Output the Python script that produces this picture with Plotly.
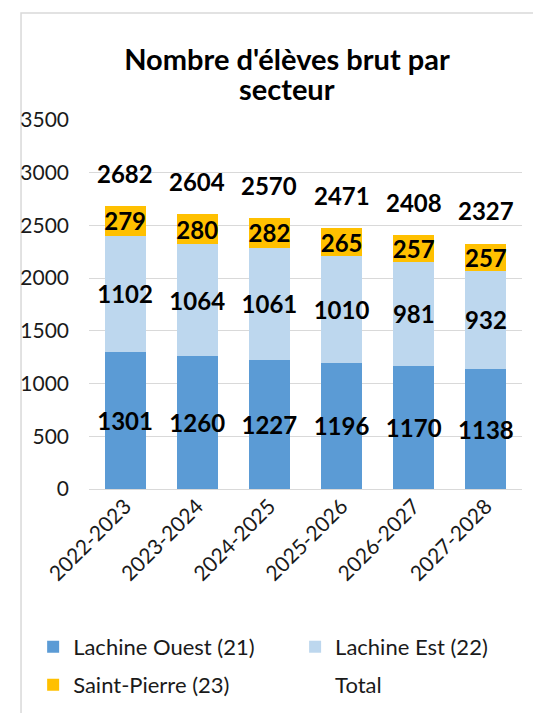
import plotly.graph_objects as go

# données
annees = ["2022-2023", "2023-2024", "2024-2025", "2025-2026", "2026-2027", "2027-2028"]
lachine_ouest = [1301, 1260, 1227, 1196, 1170, 1138]
lachine_est = [1102, 1064, 1061, 1010, 981, 932]
saint_pierre = [279, 280, 282, 265, 257, 257]
totaux = [2682, 2604, 2570, 2471, 2408, 2327]

COULEURS = {"ouest": "#5B9BD5", "est": "#BDD7EE", "sp": "#FFC000"}
POLICE = "Lato"
LABEL_FONT = dict(family=POLICE, size=24, color="black", weight="bold")
TXT = "#1a1a1a"

# la page html a une marge de 8 px autour de la figure
W, H = 533, 705


def barre(nom, valeurs, couleur, legende):
    return go.Bar(x=annees, y=valeurs, name=nom, legend=legende,
                  marker=dict(color=couleur, line=dict(width=0)),
                  text=valeurs, textposition="inside", insidetextanchor="middle",
                  constraintext="none", textfont=LABEL_FONT,
                  textangle=0)


data = [
    barre("Lachine Ouest (21)", lachine_ouest, COULEURS["ouest"], "legend"),
    barre("Lachine Est (22)", lachine_est, COULEURS["est"], "legend2"),
    barre("Saint-Pierre (23)", saint_pierre, COULEURS["sp"], "legend3"),
    # série Total : sans remplissage, juste pour la légende
    go.Bar(x=annees, y=totaux, name="Total", legend="legend4",
           marker=dict(color="rgba(0,0,0,0)", line=dict(width=0)),
           hoverinfo="skip"),
]

fig = go.Figure(data=data)

# étiquettes des totaux au-dessus des barres
for a, t in zip(annees, totaux):
    fig.add_annotation(x=a, y=t, text=str(t), showarrow=False,
                       yanchor="middle", yshift=33, font=LABEL_FONT)

# 2e ligne du titre (interligne plus serré que celui de plotly)
fig.add_annotation(text="<b>secteur</b>", xref="paper", yref="paper",
                   x=(287 - 89) / 433, y=1.086, xanchor="center", yanchor="middle",
                   showarrow=False, font=dict(family=POLICE, size=29, color="black"))

LEG = dict(orientation="h", xanchor="left", yanchor="middle",
           font=dict(size=22, color=TXT), bgcolor="rgba(0,0,0,0)")
COL1, COL2 = -0.129, 0.476
ROW1, ROW2 = -0.428, -0.531

fig.update_layout(
    width=W, height=H,
    margin=dict(l=81, r=19, t=112, b=224, autoexpand=False),
    paper_bgcolor="white", plot_bgcolor="white",
    barmode="stack", bargap=0.43,
    font=dict(family=POLICE, size=21, color=TXT),
    title=dict(text="<b>Nombre d'élèves brut par</b>",
               x=279 / W, xanchor="center", yref="container", y=1 - 52 / H, yanchor="middle",
               font=dict(family=POLICE, size=29, color="black")),
    xaxis=dict(tickangle=-45, showgrid=False, showline=False, ticks="",
               tickfont=dict(size=21, color=TXT)),
    yaxis=dict(range=[0, 3500], dtick=500, showgrid=True, gridcolor="#d9d9d9", gridwidth=1.3,
               zeroline=True, zerolinecolor="#d9d9d9", zerolinewidth=1.3,
               ticks="", ticklabelstandoff=19, tickfont=dict(size=21, color=TXT)),
    legend=dict(LEG, x=COL1, y=ROW1),
    legend2=dict(LEG, x=COL2, y=ROW1),
    legend3=dict(LEG, x=COL1, y=ROW2),
    legend4=dict(LEG, x=COL2, y=ROW2),
    showlegend=True,
)

# cadre gris du graphique
fig.add_shape(type="rect", xref="paper", yref="paper",
              x0=-0.157, x1=1.06, y0=-0.65, y1=1.29,
              line=dict(color="#d9d9d9", width=1.5), fillcolor="rgba(0,0,0,0)", layer="below")

fig.write_html("out.html")
